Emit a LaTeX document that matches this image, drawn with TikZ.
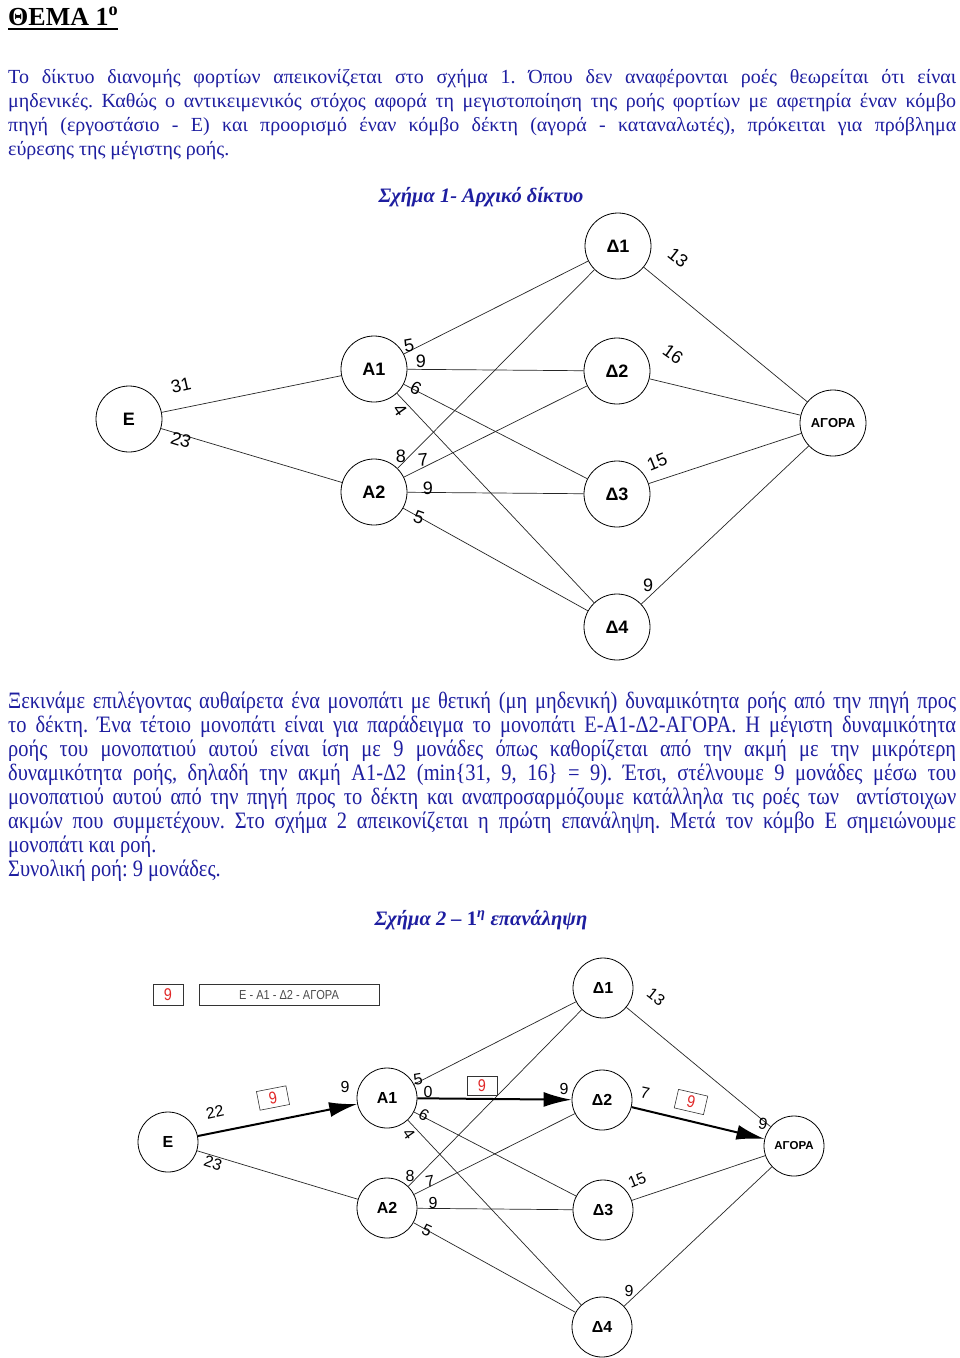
\documentclass[tikz,border=0pt]{standalone}
\usepackage{fontspec}
\setmainfont{Liberation Serif}
\newfontfamily\arial{Liberation Sans}
\newfontfamily\cserif[FakeStretch=0.87]{Liberation Serif}
\newfontfamily\carial[FakeStretch=0.85]{Liberation Sans}
\usetikzlibrary{arrows.meta}
\definecolor{txtblue}{RGB}{30,30,160}
\definecolor{redflow}{RGB}{225,40,40}
\newcommand\jl[1]{\makebox[948pt][s]{#1}}
\frenchspacing
\begin{document}
\begin{tikzpicture}[x=1pt,y=-1pt,
  nd/.style={circle, draw, fill=white, minimum size=66pt, inner sep=0pt, line width=0.8pt,
    font=\arial\bfseries\fontsize{18}{18}\selectfont},
  ndm/.style={nd, font=\arial\bfseries\fontsize{13}{13}\selectfont},
  ndb/.style={nd, minimum size=60pt, font=\arial\bfseries\fontsize{16}{16}\selectfont},
  ndbm/.style={ndb, font=\arial\bfseries\fontsize{11.5}{11.5}\selectfont},
  capl/.style={font=\arial\fontsize{18}{18}\selectfont, inner sep=0pt},
  capb/.style={font=\arial\fontsize{16}{16}\selectfont, inner sep=0pt},
  ed/.style={line width=0.7pt, draw=black!85},
  fl/.style={line width=2pt, -{Latex[length=28pt,width=15pt]}},
  fbox/.style={draw=black!80, line width=0.6pt, minimum width=30pt, minimum height=19pt, inner sep=0pt,
    text=redflow, font=\carial\fontsize{17}{17}\selectfont},
  ptxt/.style={anchor=base west, inner sep=0pt, text=txtblue, font=\fontsize{20}{24}\selectfont},
  qtxt/.style={anchor=base west, inner sep=0pt, text=txtblue, font=\cserif\fontsize{23.5}{24}\selectfont},
  captxt/.style={anchor=base, inner sep=0pt, text=txtblue, font=\bfseries\itshape\fontsize{20.5}{24}\selectfont}
]
\useasboundingbox (0,0) rectangle (960,1358);
\fill[white] (0,0) rectangle (960,1358);

% Title
\node[anchor=base west, inner sep=0pt, font=\bfseries\fontsize{26}{26}\selectfont] (title) at (8,25) {ΘΕΜΑ 1\textsuperscript{ο}};
\draw[line width=1.4pt] ([yshift=-4pt]title.base west) -- ([yshift=-4pt]title.base east);

% Paragraph 1
\node[ptxt] (p1) at (8,83) {\jl{Το δίκτυο διανομής φορτίων απεικονίζεται στο σχήμα 1. Όπου δεν αναφέρονται ροές θεωρείται ότι είναι}};
\node[ptxt] (p2) at (8,107) {\jl{μηδενικές. Καθώς ο αντικειμενικός στόχος αφορά τη μεγιστοποίηση της ροής φορτίων με αφετηρία έναν κόμβο}};
\node[ptxt] (p3) at (8,131) {\jl{πηγή (εργοστάσιο - Ε) και προορισμό έναν κόμβο δέκτη (αγορά - καταναλωτές), πρόκειται για πρόβλημα}};
\node[ptxt] (p4) at (8,155) {εύρεσης της μέγιστης ροής.};

\node[captxt] (cap1) at (481,202) {Σχήμα 1- Αρχικό δίκτυο};

% Figure 1
\node[nd] (E) at (129,419) {Ε};
\node[nd] (A1) at (374,369) {Α1};
\node[nd] (A2) at (374,492) {Α2};
\node[nd] (D1) at (618,246) {Δ1};
\node[nd] (D2) at (617,371) {Δ2};
\node[nd] (D3) at (617,494) {Δ3};
\node[nd] (D4) at (617,627) {Δ4};
\node[ndm] (AG) at (833,423) {ΑΓΟΡΑ};
\foreach \a/\b in {E/A1,E/A2,A1/D1,A1/D2,A1/D3,A1/D4,A2/D1,A2/D2,A2/D3,A2/D4,D1/AG,D2/AG,D3/AG,D4/AG}
  \draw[ed] (\a) -- (\b);

\node[capl, rotate=13] (l31) at (181,385) {31};
\node[capl, rotate=-17] (l23) at (181,440) {23};
\node[capl, rotate=10] (la5) at (409,346) {5};
\node[capl] (la9) at (421,361) {9};
\node[capl, rotate=-27] (la6) at (416,388) {6};
\node[capl, rotate=-55] (la4) at (400,410) {4};
\node[capl] (lb8) at (401,456) {8};
\node[capl, rotate=5] (lb7) at (423,460) {7};
\node[capl] (lb9) at (428,488) {9};
\node[capl, rotate=-20] (lb5) at (419,517) {5};
\node[capl, rotate=-38] (l13) at (678,258) {13};
\node[capl, rotate=-35] (l16) at (673,354) {16};
\node[capl, rotate=22] (l15) at (657,462) {15};
\node[capl] (l9d) at (648,585) {9};

% Paragraph 2
\node[qtxt] (q1) at (8,708) {\jl{Ξεκινάμε επιλέγοντας αυθαίρετα ένα μονοπάτι με θετική (μη μηδενική) δυναμικότητα ροής από την πηγή προς}};
\node[qtxt] (q2) at (8,732) {\jl{το δέκτη. Ένα τέτοιο μονοπάτι είναι για παράδειγμα το μονοπάτι Ε-Α1-Δ2-ΑΓΟΡΑ. Η μέγιστη δυναμικότητα}};
\node[qtxt] (q3) at (8,756) {\jl{ροής του μονοπατιού αυτού είναι ίση με 9 μονάδες όπως καθορίζεται από την ακμή με την μικρότερη}};
\node[qtxt] (q4) at (8,780) {\jl{δυναμικότητα ροής, δηλαδή την ακμή Α1-Δ2 (min\{31, 9, 16\} = 9). Έτσι, στέλνουμε 9 μονάδες μέσω του}};
\node[qtxt] (q5) at (8,804) {\jl{μονοπατιού αυτού από την πηγή προς το δέκτη και αναπροσαρμόζουμε κατάλληλα τις ροές των \ αντίστοιχων}};
\node[qtxt] (q6) at (8,828) {\jl{ακμών που συμμετέχουν. Στο σχήμα 2 απεικονίζεται η πρώτη επανάληψη. Μετά τον κόμβο Ε σημειώνουμε}};
\node[qtxt] (q7) at (8,852) {μονοπάτι και ροή.};
\node[qtxt] (q8) at (8,876) {Συνολική ροή: 9 μονάδες.};

\node[captxt] (cap2) at (481,925) {Σχήμα 2 – {\upshape 1}\textsuperscript{η} επανάληψη};

% Figure 2
\node[fbox, minimum height=21pt] (tot) at (168,995) {9};
\node[draw=black!80, line width=0.6pt, minimum width=180pt, minimum height=21pt, inner sep=0pt,
  text=black!70, font=\carial\fontsize{13}{13}\selectfont] (path) at (289,995) {Ε - Α1 - Δ2 - ΑΓΟΡΑ};

\node[ndb] (E2) at (168,1142) {Ε};
\node[ndb] (B1) at (387,1098) {Α1};
\node[ndb] (B2) at (387,1208) {Α2};
\node[ndb] (F1) at (603,988) {Δ1};
\node[ndb] (F2) at (602,1100) {Δ2};
\node[ndb] (F3) at (603,1210) {Δ3};
\node[ndb] (F4) at (602,1327) {Δ4};
\node[ndbm] (AG2) at (794,1146) {ΑΓΟΡΑ};
\foreach \a/\b in {E2/B2,B1/F1,B1/F3,B1/F4,B2/F1,B2/F2,B2/F3,B2/F4,F1/AG2,F3/AG2,F4/AG2}
  \draw[ed] (\a) -- (\b);
\draw[fl] (E2) -- (B1);
\draw[fl] (B1) -- (F2);
\draw[fl] (F2) -- (AG2);

\node[fbox, rotate=11] (fb1) at (273,1098) {9};
\node[fbox] (fb2) at (482,1086) {9};
\node[fbox, rotate=-13] (fb3) at (691,1102) {9};

\node[capb, rotate=12] (m22) at (215,1112) {22};
\node[capb] (m9a) at (345,1087) {9};
\node[capb, rotate=-18] (m23) at (213,1163) {23};
\node[capb, rotate=10] (ma5) at (418,1079) {5};
\node[capb] (ma0) at (428,1092) {0};
\node[capb, rotate=-30] (ma6) at (424,1115) {6};
\node[capb, rotate=-55] (ma4) at (409,1134) {4};
\node[capb] (m9b) at (564,1089) {9};
\node[capb, rotate=-12] (m7) at (645,1093) {7};
\node[capb, rotate=-10] (m9c) at (763,1124) {9};
\node[capb, rotate=-38] (m13) at (656,997) {13};
\node[capb] (mb8) at (410,1176) {8};
\node[capb, rotate=10] (mb7) at (430,1181) {7};
\node[capb] (mb9) at (433,1203) {9};
\node[capb, rotate=-25] (mb5) at (427,1230) {5};
\node[capb, rotate=22] (m15) at (637,1180) {15};
\node[capb] (m9d) at (629,1291) {9};
\end{tikzpicture}
\end{document}
